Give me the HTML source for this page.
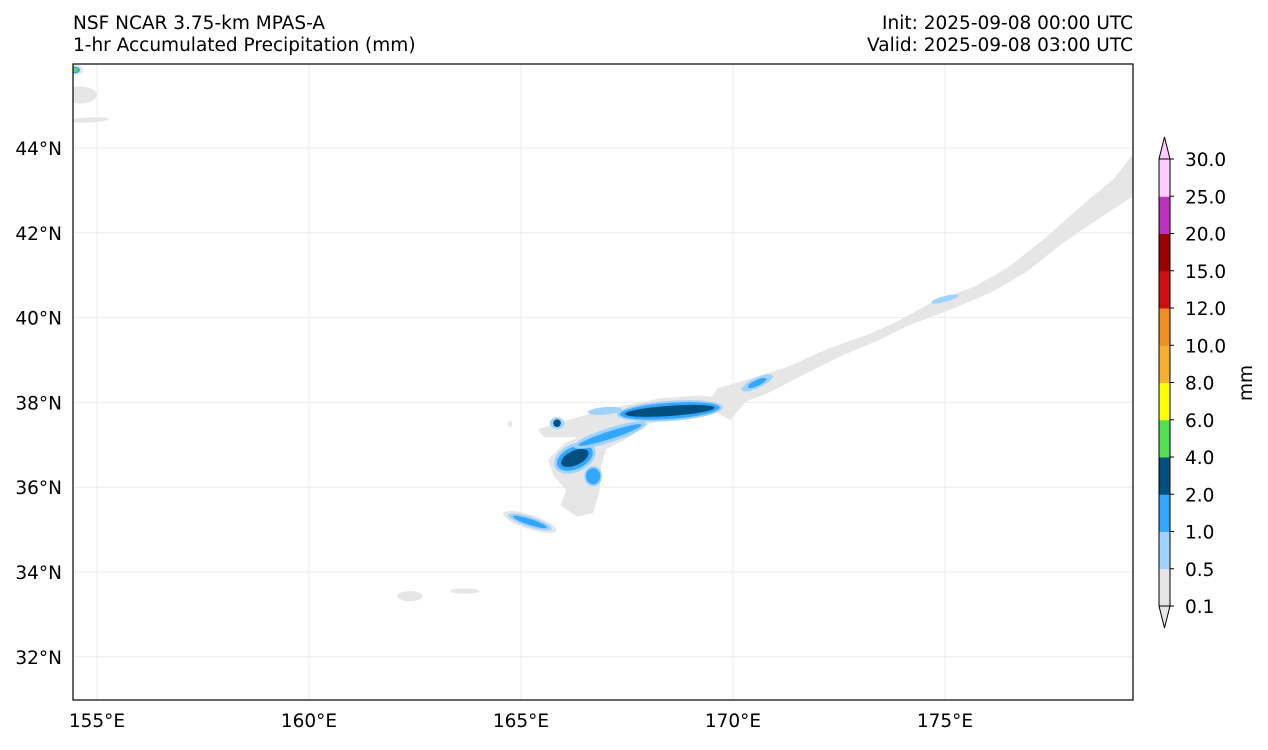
<!DOCTYPE html>
<html><head><meta charset="utf-8"><style>
body{margin:0;background:#fff;}
svg text{font-family:"DejaVu Sans","Liberation Sans",sans-serif;fill:#000;}
</style></head><body>
<svg id="chart" width="1268" height="745" viewBox="0 0 1268 745" xmlns="http://www.w3.org/2000/svg">
<rect width="1268" height="745" fill="#fff"/>
<text x="73" y="29" font-size="18.5">NSF NCAR 3.75-km MPAS-A</text>
<text x="73" y="51" font-size="18.5">1-hr Accumulated Precipitation (mm)</text>
<text x="1133" y="29" font-size="18.5" text-anchor="end">Init: 2025-09-08 00:00 UTC</text>
<text x="1133" y="51" font-size="18.5" text-anchor="end">Valid: 2025-09-08 03:00 UTC</text>
<defs><clipPath id="mapclip"><rect x="73" y="64" width="1060" height="636"/></clipPath></defs>
<g id="grid"></g>
<g id="marks" clip-path="url(#mapclip)"></g>
<rect x="73" y="64" width="1060" height="636" fill="none" stroke="#000" stroke-width="1.2"/>
<g id="axes"></g>
<g id="cbar"></g>
<text transform="translate(1252,383) rotate(-90)" font-size="18.5" text-anchor="middle">mm</text>
</svg>
<script>
const lonTicks=[155,160,165,170,175];
const latTicks=[32,34,36,38,40,42,44];
const levels=["0.1","0.5","1.0","2.0","4.0","6.0","8.0","10.0","12.0","15.0","20.0","25.0","30.0"];
const colors=["#e6e6e6","#a0d2ff","#33a6ff","#00507f","#55dd55","#ffff00","#f5b030","#ee8f22","#cc1010","#990000","#bb33bb","#ffccff"];
// gray polygons (lon/lat)
const polyA_lon=[173.94,174.65,175.71,176.53,177.36,178.30,179.01,179.43,179.43,178.66,177.71,176.89,176.06,175.12,174.06,173.47,172.52,171.58,170.87,170.28,169.93,169.69,169.50,169.65,170.40,171.34,172.29,173.23];
const polyA_lat=[39.90,40.30,40.70,41.17,41.83,42.66,43.25,43.80,42.90,42.40,41.75,41.10,40.62,40.22,39.82,39.52,39.12,38.65,38.28,38.05,37.63,37.77,38.06,38.30,38.52,38.82,39.25,39.58];
const polyB_lon=[165.45,166.39,167.33,168.28,169.22,169.81,170.17,170.87,170.28,169.93,169.58,168.99,168.04,167.45,166.98,166.86,166.82,166.67,166.34,165.97,166.11,165.80,165.68,166.04,166.51,165.57];
const polyB_lat=[37.35,37.63,37.87,38.06,38.13,38.06,38.13,38.29,38.06,37.63,37.82,37.73,37.54,37.16,36.92,36.52,35.93,35.42,35.34,35.58,35.93,36.29,36.64,37.00,37.21,37.21];
// ellipses: center lon/lat, radii (deg), rotation, level index
const eLon=[165.21,162.38,163.68,164.74,154.60,154.79,154.48,
  168.51,168.51,168.51, 166.27,166.27,166.27, 167.10,167.10, 165.85,165.85, 166.70,166.70, 166.98, 170.57,170.57, 175.0, 165.21,165.21, 154.48,154.48];
const eLat=[35.18,33.43,33.55,37.49,45.25,44.66,45.84,
  37.80,37.80,37.80, 36.69,36.69,36.69, 37.23,37.23, 37.51,37.51, 36.26,36.26, 37.80, 38.46,38.46, 40.44, 35.18,35.18, 45.84,45.84];
const eRx=[0.66,0.30,0.35,0.05,0.40,0.50,0.20,
  1.25,1.18,1.06, 0.52,0.45,0.35, 0.90,0.78, 0.17,0.09, 0.21,0.17, 0.40, 0.40,0.24, 0.33, 0.54,0.42, 0.12,0.06];
const eRy=[0.17,0.12,0.06,0.08,0.20,0.06,0.12,
  0.24,0.19,0.12, 0.33,0.26,0.17, 0.17,0.09, 0.14,0.09, 0.24,0.19, 0.09, 0.12,0.07, 0.07, 0.12,0.07, 0.08,0.05];
const eRot=[18,0,0,0,0,-3,0,
  -4,-4,-4, -25,-25,-25, -18,-18, 0,0, 0,0, -5, -25,-25, -15, 18,18, 0,0];
const eLev=[0,0,0,0,0,0,0,
  1,2,3, 1,2,3, 1,2, 1,3, 1,2, 1, 1,2, 1, 1,2, 2,4];

const NS="http://www.w3.org/2000/svg";
const X0=73,X1=1133,Y0=64,Y1=700,PX=42.4;
const xS=lon=>97+(lon-155)*PX;
const yS=lat=>148-(lat-44)*PX;
function mk(tag,attrs,parent){const el=document.createElementNS(NS,tag);for(const k in attrs)el.setAttribute(k,attrs[k]);parent.appendChild(el);return el;}
const grid=document.getElementById('grid'),marks=document.getElementById('marks'),axes=document.getElementById('axes'),cbar=document.getElementById('cbar');
lonTicks.forEach(l=>{const x=xS(l);
  const g=mk('line',{x1:x,x2:x,y1:Y0,y2:Y1,stroke:'#ececec','stroke-width':1},grid);
  
  
  const t=mk('text',{x:x,y:727,'font-size':18.5,'text-anchor':'middle'},axes);t.textContent=l+'°E';
  
  
});
latTicks.forEach(l=>{const y=yS(l);
  const g=mk('line',{x1:X0,x2:X1,y1:y,y2:y,stroke:'#ececec','stroke-width':1},grid);
  
  
  const t=mk('text',{x:62,y:y+7,'font-size':18.5,'text-anchor':'end'},axes);t.textContent=l+'°N';
  
  
});
function poly(lons,lats,name){const pts=lons.map((l,i)=>xS(l)+','+yS(lats[i])).join(' ');
  const p=mk('polygon',{points:pts,fill:colors[0],stroke:colors[0],'stroke-width':3,'stroke-linejoin':'round'},marks);
  
  }
poly(polyA_lon,polyA_lat,'precip-band-northeast');
poly(polyB_lon,polyB_lat,'precip-area-central');
eLon.forEach((l,i)=>{const cx=xS(l),cy=yS(eLat[i]);
  const e=mk('ellipse',{cx:cx,cy:cy,rx:eRx[i]*PX,ry:eRy[i]*PX,fill:colors[eLev[i]],transform:`rotate(${eRot[i]} ${cx} ${cy})`},marks);
  
  
});
// colorbar
const cbX=1159,cbW=11,cbTop=159,cbBot=606,n=levels.length-1,step=(cbBot-cbTop)/n;
for(let i=0;i<n;i++){const yb=cbBot-i*step;
  const r=mk('rect',{x:cbX,y:yb-step,width:cbW,height:step+0.5,fill:colors[i]},cbar);
  
  }
const tri1=mk('polygon',{points:`${cbX},${cbTop} ${cbX+cbW/2},${cbTop-22} ${cbX+cbW},${cbTop}`,fill:'#ffccff',stroke:'#000','stroke-width':1},cbar);


const tri2=mk('polygon',{points:`${cbX},${cbBot} ${cbX+cbW/2},${cbBot+22} ${cbX+cbW},${cbBot}`,fill:'#e6e6e6',stroke:'#000','stroke-width':1},cbar);


mk('rect',{x:cbX,y:cbTop,width:cbW,height:cbBot-cbTop,fill:'none',stroke:'#000','stroke-width':1},cbar);
levels.forEach((lv,i)=>{const y=cbBot-i*step;
  mk('line',{x1:cbX+cbW,x2:cbX+cbW+4,y1:y,y2:y,stroke:'#000'},cbar);
  const t=mk('text',{x:1185,y:y+7,'font-size':18.5},cbar);t.textContent=lv;
  
  
});
</script>
</body></html>
